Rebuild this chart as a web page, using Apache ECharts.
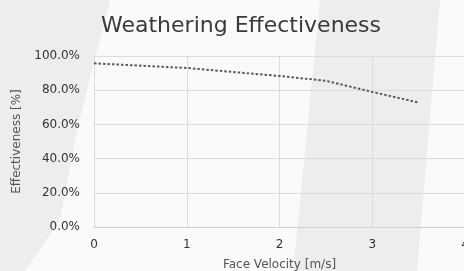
<!DOCTYPE html>
<html>
<head>
<meta charset="utf-8">
<script src="https://cdn.jsdelivr.net/npm/echarts@6/dist/echarts.min.js"></script>
<style>
  html, body { margin: 0; padding: 0; background: #fafafa; }
  #chart { width: 464px; height: 271px; }
</style>
</head>
<body>
<div id="chart"></div>
<script>
// face velocity [m/s] and effectiveness (fraction)
const velocity = [0, 1, 2, 2.5, 3, 3.5]
const effectiveness = [0.957, 0.930, 0.883, 0.855, 0.790, 0.728]
const yTicks = [0, 0.2, 0.4, 0.6, 0.8, 1.0]

const chart = echarts.init(document.getElementById('chart'))

const bandStyle = { fill: '#ededed' }

chart.setOption({
  backgroundColor: '#fafafa',
  textStyle: { fontFamily: '"DejaVu Sans", sans-serif' },
  // faint diagonal watermark strokes behind the chart
  graphic: [
    {
      type: 'polygon',
      silent: true,
      z: -10,
      shape: { points: [[0, 0], [110, 0], [92, 70], [77, 130], [60, 220], [25, 271], [0, 271]] },
      style: bandStyle
    },
    {
      type: 'polygon',
      silent: true,
      z: -10,
      shape: { points: [[320, 0], [440, 0], [417, 271], [293, 271]] },
      style: bandStyle
    }
  ],
  title: {
    text: 'Weathering Effectiveness',
    left: 96,
    top: 10,
    textStyle: { fontSize: 22, fontWeight: 'normal', color: '#3a3a3a' }
  },
  grid: { left: 94, right: -1, top: 56, bottom: 44, outerBoundsMode: 'none' },
  xAxis: {
    type: 'value',
    min: 0,
    max: 4,
    interval: 1,
    name: 'Face Velocity [m/s]',
    nameLocation: 'middle',
    nameGap: 32,
    nameTextStyle: { fontSize: 12, color: '#555' },
    axisLine: { show: true, lineStyle: { color: '#d0d0d0' } },
    axisTick: { show: false },
    axisLabel: { fontSize: 12, color: '#333', margin: 12 },
    splitLine: { show: true, lineStyle: { color: '#dcdcdc' } }
  },
  yAxis: {
    type: 'value',
    min: 0,
    max: 1,
    interval: 0.2,
    name: 'Effectiveness [%]',
    nameLocation: 'middle',
    nameGap: 70,
    nameTextStyle: { fontSize: 12, color: '#555' },
    axisLine: { show: false },
    axisTick: { show: false },
    axisLabel: {
      fontSize: 12,
      color: '#333',
      margin: 14,
      formatter: v => (v * 100).toFixed(1) + '%'
    },
    splitLine: { show: true, lineStyle: { color: '#dcdcdc' } }
  },
  series: [
    {
      type: 'line',
      data: velocity.map((v, i) => [v, effectiveness[i]]),
      showSymbol: false,
      lineStyle: { color: '#5a5a5a', width: 2, type: [2.5, 2] }
    }
  ],
  animation: false
})
</script>
</body>
</html>
